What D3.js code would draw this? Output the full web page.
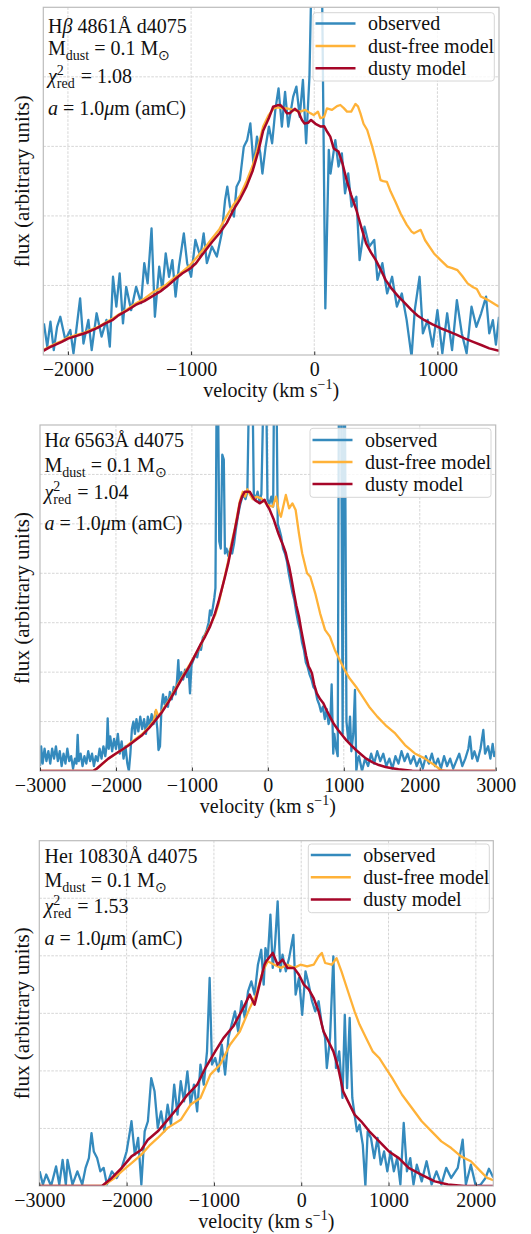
<!DOCTYPE html>
<html><head><meta charset="utf-8">
<script src="https://cdn.jsdelivr.net/npm/d3@7"></script>
<style>
body{margin:0;background:#fff}
text{font-family:"Liberation Serif","Times New Roman",serif;fill:#111;white-space:pre}
</style>
</head><body>
<svg id="chart" width="531" height="1234"></svg>
<script>
// ---------------- DATA ----------------
const legendNames = ["observed", "dust-free model", "dusty model"];

// Panel 1: H-beta
const hbXTicks = [-2000, -1000, 0, 1000];
const hbXDomain = [-2200, 1500];
const hbYDomain = [0, 1.0];
const hbYGrid = [0.2, 0.4, 0.6, 0.8];
const hbChi = "1.08";
const hbObs = [[-2195,0.091],[-2168,0.024],[-2142,0.096],[-2115,0.014],[-2088,0.081],[-2062,0.110],[-2021,0.043],[-1981,0.072],[-1955,0.005],[-1901,0.163],[-1874,0.033],[-1834,0.101],[-1807,0.014],[-1767,0.120],[-1727,0.053],[-1687,0.101],[-1660,0.024],[-1634,0.225],[-1607,0.139],[-1580,0.235],[-1553,0.091],[-1527,0.196],[-1487,0.129],[-1446,0.196],[-1406,0.149],[-1380,0.264],[-1353,0.206],[-1321,0.364],[-1294,0.110],[-1259,0.254],[-1233,0.187],[-1206,0.292],[-1179,0.225],[-1152,0.273],[-1126,0.168],[-1099,0.254],[-1059,0.350],[-1032,0.264],[-1000,0.225],[-965,0.331],[-925,0.283],[-898,0.350],[-872,0.264],[-831,0.312],[-791,0.283],[-751,0.350],[-724,0.446],[-706,0.484],[-684,0.427],[-652,0.398],[-631,0.484],[-604,0.503],[-572,0.599],[-545,0.618],[-519,0.666],[-492,0.542],[-465,0.628],[-438,0.580],[-421,0.522],[-395,0.599],[-368,0.657],[-342,0.609],[-316,0.705],[-290,0.767],[-263,0.657],[-237,0.757],[-211,0.657],[-171,0.743],[-145,0.772],[-118,0.685],[-92,0.791],[-66,0.609],[-39,0.801],[-22,1.1],[62,1.1],[90,0.134],[118,0.590],[132,0.522],[171,0.618],[197,0.542],[224,0.580],[250,0.465],[276,0.522],[303,0.427],[342,0.455],[368,0.273],[408,0.369],[447,0.312],[487,0.331],[513,0.216],[553,0.264],[592,0.177],[632,0.225],[671,0.139],[711,0.177],[750,0.101],[790,-0.005],[816,0.129],[855,0.225],[882,0.062],[921,0.101],[961,0.024],[1000,0.129],[1040,0.005],[1079,0.120],[1119,0.014],[1158,0.158],[1198,0.062],[1237,0.005],[1277,0.139],[1316,0.081],[1355,0.120],[1395,0.168],[1421,0.062],[1450,0.10],[1475,0.03],[1500,0.11]];
const hbDustFree = [[-2200,0.015],[-2150,0.024],[-2100,0.033],[-2050,0.040],[-2000,0.050],[-1930,0.058],[-1870,0.064],[-1830,0.070],[-1760,0.080],[-1700,0.092],[-1640,0.104],[-1590,0.116],[-1520,0.131],[-1450,0.148],[-1380,0.162],[-1320,0.178],[-1250,0.192],[-1200,0.203],[-1130,0.224],[-1070,0.240],[-1010,0.258],[-960,0.278],[-910,0.300],[-880,0.312],[-830,0.335],[-770,0.362],[-710,0.40],[-660,0.43],[-600,0.46],[-550,0.50],[-500,0.545],[-455,0.60],[-415,0.657],[-370,0.69],[-330,0.709],[-300,0.712],[-260,0.71],[-222,0.709],[-170,0.705],[-114,0.70],[-73,0.705],[-30,0.695],[-5,0.69],[30,0.70],[49,0.681],[80,0.685],[103,0.709],[144,0.705],[185,0.716],[212,0.719],[240,0.71],[266,0.70],[300,0.70],[334,0.722],[355,0.715],[375,0.695],[400,0.665],[430,0.647],[470,0.60],[500,0.56],[538,0.503],[560,0.50],[590,0.498],[620,0.47],[660,0.44],[701,0.407],[750,0.375],[790,0.355],[810,0.35],[864,0.36],[900,0.33],[972,0.292],[1020,0.275],[1081,0.254],[1120,0.25],[1163,0.244],[1200,0.228],[1245,0.206],[1290,0.195],[1320,0.19],[1353,0.168],[1400,0.16],[1434,0.153],[1470,0.145],[1500,0.139]];
const hbDusty = [[-2200,0.012],[-2150,0.022],[-2100,0.030],[-2050,0.038],[-2000,0.047],[-1930,0.055],[-1870,0.062],[-1830,0.067],[-1760,0.078],[-1700,0.090],[-1640,0.100],[-1590,0.114],[-1520,0.128],[-1450,0.144],[-1380,0.155],[-1320,0.168],[-1250,0.183],[-1200,0.196],[-1130,0.218],[-1070,0.235],[-1010,0.248],[-960,0.264],[-910,0.288],[-880,0.302],[-830,0.325],[-770,0.350],[-710,0.38],[-660,0.415],[-600,0.45],[-550,0.485],[-500,0.53],[-455,0.585],[-415,0.645],[-370,0.68],[-334,0.714],[-300,0.718],[-277,0.719],[-250,0.71],[-222,0.695],[-200,0.695],[-158,0.708],[-130,0.70],[-100,0.676],[-79,0.666],[-50,0.668],[-26,0.676],[10,0.665],[53,0.657],[80,0.658],[105,0.642],[130,0.628],[158,0.594],[197,0.585],[230,0.55],[263,0.503],[300,0.46],[342,0.417],[380,0.37],[421,0.321],[460,0.295],[500,0.273],[540,0.245],[579,0.216],[630,0.19],[684,0.168],[740,0.148],[790,0.129],[840,0.113],[895,0.100],[960,0.088],[1026,0.077],[1090,0.068],[1158,0.058],[1220,0.048],[1290,0.038],[1360,0.028],[1421,0.019],[1500,0.012]];

// Panel 2: H-alpha
const haXTicks = [-3000, -2000, -1000, 0, 1000, 2000, 3000];
const haXDomain = [-3000, 3000];
const haYDomain = [0, 1.4];
const haYGrid = [0.2, 0.4, 0.6, 0.8, 1.0, 1.2];
const haChi = "1.04";
const haObs = [[-3000,0.02],[-2985,0.10],[-2965,0.03],[-2940,0.09],[-2915,0.04],[-2890,0.08],[-2865,0.03],[-2840,0.09],[-2815,0.05],[-2790,0.10],[-2765,0.04],[-2740,0.08],[-2715,0.02],[-2690,0.07],[-2665,0.03],[-2640,0.09],[-2615,0.04],[-2590,0.06],[-2565,0.01],[-2540,0.05],[-2520,0.03],[-2504,0.146],[-2490,0.04],[-2465,0.07],[-2440,0.02],[-2415,0.06],[-2390,0.03],[-2365,0.08],[-2340,0.04],[-2315,0.07],[-2290,0.02],[-2265,0.06],[-2240,0.04],[-2215,0.09],[-2190,0.05],[-2165,0.10],[-2140,0.06],[-2120,0.11],[-2109,0.213],[-2095,0.09],[-2075,0.14],[-2050,0.08],[-2025,0.13],[-2000,0.09],[-1975,0.15],[-1950,0.07],[-1925,0.12],[-1900,0.05],[-1875,0.10],[-1850,0.03],[-1830,0.0],[-1810,0.07],[-1790,0.17],[-1770,0.20],[-1750,0.15],[-1730,0.21],[-1705,0.16],[-1680,0.22],[-1655,0.17],[-1630,0.21],[-1605,0.15],[-1580,0.22],[-1555,0.18],[-1530,0.23],[-1505,0.19],[-1480,0.24],[-1455,0.17],[-1440,0.085],[-1420,0.10],[-1400,0.26],[-1380,0.31],[-1360,0.27],[-1340,0.30],[-1315,0.26],[-1290,0.32],[-1265,0.29],[-1240,0.34],[-1215,0.31],[-1195,0.37],[-1179,0.449],[-1165,0.36],[-1140,0.40],[-1115,0.37],[-1090,0.41],[-1065,0.38],[-1045,0.42],[-1025,0.314],[-1005,0.43],[-980,0.45],[-955,0.47],[-930,0.46],[-905,0.50],[-880,0.49],[-855,0.54],[-830,0.55],[-805,0.57],[-780,0.60],[-762,0.65],[-745,0.63],[-725,0.66],[-705,0.70],[-690,0.74],[-675,1.5],[-655,1.5],[-640,0.93],[-620,0.90],[-600,1.28],[-580,1.26],[-565,0.88],[-545,0.90],[-520,0.87],[-495,0.90],[-470,0.88],[-445,0.92],[-420,0.98],[-395,1.03],[-370,1.07],[-345,1.10],[-320,1.12],[-295,1.10],[-270,1.13],[-250,1.5],[-200,1.5],[-185,1.12],[-160,1.10],[-135,1.13],[-110,1.09],[-85,1.12],[-60,1.5],[-20,1.5],[-5,1.10],[20,1.08],[45,1.11],[70,1.07],[80,1.5],[115,1.5],[130,1.0],[150,0.98],[175,0.95],[200,0.90],[225,0.88],[250,0.85],[275,0.80],[300,0.76],[325,0.72],[350,0.69],[375,0.64],[400,0.60],[425,0.57],[450,0.52],[475,0.49],[500,0.44],[525,0.42],[550,0.39],[575,0.37],[600,0.34],[625,0.33],[650,0.29],[675,0.27],[700,0.24],[725,0.26],[750,0.21],[775,0.25],[800,0.19],[825,0.22],[840,0.35],[861,0.07],[875,0.15],[900,0.09],[920,0.06],[935,1.5],[965,1.5],[985,0.15],[1000,1.5],[1015,1.5],[1035,0.20],[1060,0.12],[1082,0.22],[1100,0.08],[1125,0.15],[1147,0.328],[1165,0.0],[1185,0.05],[1200,0.06],[1240,0.0],[1280,0.05],[1320,0.02],[1360,0.07],[1400,0.03],[1440,0.08],[1480,0.04],[1520,0.07],[1560,0.02],[1600,0.05],[1640,0.01],[1680,0.06],[1720,0.03],[1760,0.08],[1800,0.04],[1840,0.07],[1880,0.03],[1920,0.06],[1960,0.02],[2000,0.05],[2040,0.01],[2080,0.06],[2120,0.03],[2160,0.07],[2200,0.02],[2240,0.05],[2280,0.01],[2320,0.06],[2360,0.02],[2400,0.05],[2440,0.01],[2480,0.04],[2520,0.07],[2560,0.02],[2600,0.05],[2640,0.09],[2661,0.139],[2690,0.05],[2720,0.08],[2760,0.04],[2800,0.09],[2837,0.166],[2860,0.07],[2900,0.10],[2930,0.05],[2960,0.11],[2980,0.06],[3000,0.08]];
const haDustFree = [[-3000,0],[-2300,0],[-2250,0.01],[-2174,0.03],[-2100,0.05],[-2000,0.07],[-1900,0.09],[-1826,0.11],[-1740,0.13],[-1652,0.15],[-1560,0.18],[-1500,0.205],[-1473,0.247],[-1440,0.22],[-1390,0.245],[-1304,0.285],[-1220,0.33],[-1130,0.38],[-1040,0.425],[-957,0.47],[-890,0.505],[-826,0.55],[-760,0.59],[-696,0.63],[-650,0.675],[-609,0.73],[-565,0.79],[-522,0.85],[-480,0.92],[-435,0.98],[-400,1.04],[-370,1.09],[-330,1.13],[-300,1.11],[-270,1.14],[-239,1.12],[-200,1.10],[-150,1.11],[-86,1.103],[0,1.076],[65,1.07],[108,1.11],[151,1.043],[172,1.029],[237,1.117],[280,1.063],[323,1.083],[366,1.056],[409,0.962],[452,0.881],[516,0.80],[559,0.786],[624,0.719],[688,0.638],[753,0.571],[817,0.544],[882,0.49],[946,0.449],[1011,0.409],[1075,0.375],[1161,0.341],[1247,0.301],[1333,0.26],[1441,0.22],[1548,0.186],[1677,0.152],[1806,0.105],[1935,0.071],[2064,0.051],[2193,0.024],[2279,0.004],[2350,0],[3000,0]];
const haDusty = [[-3000,0],[-2300,0],[-2250,0.01],[-2174,0.031],[-2100,0.05],[-2000,0.071],[-1900,0.09],[-1826,0.105],[-1740,0.125],[-1652,0.146],[-1560,0.175],[-1478,0.206],[-1390,0.24],[-1304,0.281],[-1220,0.325],[-1130,0.375],[-1040,0.42],[-957,0.469],[-890,0.51],[-826,0.544],[-760,0.585],[-696,0.638],[-650,0.685],[-609,0.733],[-565,0.785],[-522,0.840],[-480,0.905],[-435,0.975],[-400,1.03],[-370,1.083],[-340,1.11],[-304,1.130],[-270,1.13],[-239,1.130],[-200,1.11],[-174,1.097],[-140,1.09],[-109,1.083],[-75,1.09],[-43,1.097],[-10,1.075],[20,1.06],[43,1.043],[75,1.02],[108,0.989],[140,0.96],[172,0.935],[205,0.91],[237,0.881],[260,0.85],[280,0.827],[310,0.78],[344,0.72],[375,0.67],[409,0.625],[440,0.57],[473,0.517],[505,0.465],[538,0.422],[560,0.41],[581,0.395],[610,0.35],[645,0.314],[690,0.29],[731,0.274],[775,0.245],[817,0.22],[870,0.19],[925,0.166],[980,0.145],[1032,0.125],[1095,0.105],[1161,0.085],[1225,0.068],[1290,0.051],[1380,0.035],[1462,0.024],[1550,0.016],[1634,0.011],[1720,0.007],[1806,0.004],[1900,0.001],[2000,0],[3000,0]];

// Panel 3: He I
const heXTicks = [-3000, -2000, -1000, 0, 1000, 2000];
const heXDomain = [-3000, 2200];
const heYDomain = [0, 1.2];
const heYGrid = [0.2, 0.4, 0.6, 0.8, 1.0];
const heChi = "1.53";
const heObs = [[-2996,0.051],[-2959,0.005],[-2921,0.04],[-2865,0.0],[-2808,0.068],[-2771,0.005],[-2733,0.091],[-2696,0.005],[-2677,0.091],[-2620,0.005],[-2564,0.051],[-2508,0.005],[-2470,0.063],[-2432,0.097],[-2402,0.184],[-2376,0.12],[-2338,0.097],[-2301,0.051],[-2263,0.063],[-2226,0.005],[-2169,0.051],[-2113,0.028],[-2056,0.063],[-2000,0.12],[-1962,0.19],[-1944,0.225],[-1906,0.109],[-1868,0.167],[-1831,0.005],[-1793,0.19],[-1756,0.225],[-1718,0.375],[-1680,0.329],[-1643,0.202],[-1605,0.259],[-1568,0.19],[-1530,0.283],[-1492,0.213],[-1455,0.352],[-1417,0.248],[-1380,0.364],[-1342,0.294],[-1304,0.398],[-1267,0.283],[-1229,0.352],[-1192,0.259],[-1154,0.422],[-1116,0.352],[-1079,0.468],[-1049,0.723],[-1022,0.422],[-985,0.445],[-947,0.398],[-910,0.491],[-872,0.387],[-834,0.514],[-797,0.561],[-759,0.607],[-722,0.537],[-684,0.642],[-646,0.584],[-609,0.676],[-571,0.711],[-534,0.665],[-496,0.769],[-458,0.821],[-430,0.70],[-410,0.827],[-383,0.792],[-353,0.943],[-326,0.758],[-300,0.839],[-270,0.989],[-240,0.746],[-214,0.804],[-176,0.746],[-139,0.792],[-90,0.873],[-64,0.665],[-26,0.723],[11,0.595],[49,0.746],[86,0.70],[124,0.642],[161,0.607],[199,0.642],[236,0.561],[274,0.514],[293,0.41],[330,0.514],[368,0.798],[398,0.41],[435,0.468],[473,0.306],[499,0.595],[525,0.34],[555,0.584],[585,0.306],[611,0.248],[638,0.19],[668,0.213],[705,0.144],[735,0.0],[761,0.19],[799,0.167],[836,0.097],[874,0.167],[911,0.074],[949,0.12],[986,0.051],[1024,0.12],[1061,0.051],[1099,0.097],[1136,0.005],[1174,0.219],[1211,0.051],[1249,0.097],[1286,0.005],[1324,0.074],[1380,0.016],[1436,0.086],[1493,0.005],[1549,0.051],[1605,0.005],[1661,0.063],[1718,0.028],[1793,0.063],[1849,0.161],[1886,0.005],[1943,0.074],[1999,0.0],[2055,0.005],[2111,0.028],[2150,0.06],[2200,0.03]];
const heDustFree = [[-3000,0],[-2270,0],[-2150,0.025],[-2056,0.051],[-1940,0.08],[-1831,0.109],[-1740,0.14],[-1643,0.167],[-1530,0.202],[-1380,0.23],[-1267,0.283],[-1154,0.306],[-1041,0.387],[-928,0.422],[-816,0.491],[-703,0.537],[-590,0.618],[-515,0.665],[-440,0.746],[-383,0.781],[-308,0.769],[-233,0.758],[-158,0.769],[-83,0.758],[-8,0.769],[68,0.763],[143,0.769],[199,0.798],[236,0.81],[274,0.775],[349,0.769],[405,0.792],[461,0.746],[536,0.676],[611,0.607],[668,0.561],[743,0.514],[818,0.468],[893,0.445],[968,0.41],[1043,0.375],[1155,0.317],[1268,0.271],[1380,0.225],[1493,0.19],[1605,0.155],[1718,0.132],[1830,0.103],[1943,0.086],[2055,0.051],[2130,0.028],[2200,0.02]];
const heDusty = [[-3000,0],[-2282,0],[-2169,0.028],[-2056,0.063],[-1944,0.103],[-1831,0.126],[-1756,0.161],[-1643,0.19],[-1530,0.23],[-1417,0.271],[-1304,0.317],[-1192,0.352],[-1098,0.41],[-985,0.468],[-891,0.514],[-778,0.555],[-665,0.618],[-590,0.665],[-534,0.630],[-477,0.70],[-421,0.769],[-401,0.781],[-326,0.810],[-270,0.769],[-214,0.787],[-158,0.758],[-83,0.758],[-26,0.734],[30,0.70],[86,0.683],[143,0.653],[199,0.607],[255,0.538],[311,0.503],[368,0.468],[424,0.41],[480,0.329],[536,0.294],[611,0.248],[686,0.225],[780,0.19],[893,0.155],[1005,0.12],[1118,0.097],[1230,0.063],[1380,0.039],[1530,0.016],[1680,0.005],[1868,0],[2200,0]];

// ---------------- DRAW ----------------
const colors = {obs: "#348ABD", free: "#FFB238", dusty: "#A60628"};
const FS = 20;
const svg = d3.select("#chart");

function rich(g, x, y, segs, size) {
  let cx = x;
  segs.forEach(s => {
    if (s.stack) {
      const t1 = g.append("text").attr("x", cx).attr("y", y - size*0.40).style("font-size", (size*0.7)+"px").text(s.stack[0]);
      const t2 = g.append("text").attr("x", cx).attr("y", y + size*0.27).style("font-size", (size*0.7)+"px").text(s.stack[1]);
      cx += Math.max(t1.node().getComputedTextLength(), t2.node().getComputedTextLength()) + 1;
    } else {
      let dy = 0, fs = size;
      if (s.sub) { dy = size*0.27; fs = size*0.7; }
      if (s.sup) { dy = -size*0.40; fs = size*0.7; }
      if (s.sc) { fs = size*0.78; }
      const t = g.append("text").attr("x", cx).attr("y", y + dy)
        .style("font-size", fs+"px").style("font-style", s.i ? "italic" : "normal").text(s.t);
      cx += t.node().getComputedTextLength();
    }
  });
  return cx - x;
}

const panels = [
  {obs: hbObs, free: hbDustFree, dusty: hbDusty, xd: hbXDomain, yd: hbYDomain, xt: hbXTicks, yg: hbYGrid, chi: hbChi,
   title: [{t:"H"},{t:"β", i:true},{t:" 4861Å d4075"}],
   box: {l:43.3, r:499, t:7.3, b:355}, tx: 48, ty: [33, 55, 83, 115],
   leg: {x:313, y:12.7, w:181.3, h:68.3, rows:[23.5, 46, 68.3]}},
  {obs: haObs, free: haDustFree, dusty: haDusty, xd: haXDomain, yd: haYDomain, xt: haXTicks, yg: haYGrid, chi: haChi,
   title: [{t:"H"},{t:"α", i:true},{t:" 6563Å d4075"}],
   box: {l:40, r:495.7, t:425, b:771}, tx: 44.5, ty: [447, 471.5, 498.5, 530],
   leg: {x:310, y:428.3, w:181, h:69, rows:[440, 462, 484]}},
  {obs: heObs, free: heDustFree, dusty: heDusty, xd: heXDomain, yd: heYDomain, xt: heXTicks, yg: heYGrid, chi: heChi,
   title: [{t:"He"},{t:"I", sc:true},{t:" 10830Å d4075"}],
   box: {l:39.3, r:493.3, t:840.7, b:1186}, tx: 44.5, ty: [863.3, 886.7, 912.7, 945],
   leg: {x:308.3, y:844, w:181, h:68.7, rows:[855, 877.3, 899.5]}}
];

panels.forEach((p, i) => {
  const B = p.box;
  const x = d3.scaleLinear().domain(p.xd).range([B.l, B.r]);
  const y = d3.scaleLinear().domain(p.yd).range([B.b, B.t]);
  const g = svg.append("g");

  // grid
  g.selectAll(".gx").data(p.xt.filter(v => v > p.xd[0] && v < p.xd[1])).enter().append("line")
    .attr("x1", d => x(d)).attr("x2", d => x(d)).attr("y1", B.t).attr("y2", B.b)
    .attr("stroke", "#c4c4c4").attr("stroke-width", 0.7).attr("stroke-dasharray", "2.6,1.4");
  g.selectAll(".gy").data(p.yg).enter().append("line")
    .attr("x1", B.l).attr("x2", B.r).attr("y1", d => y(d)).attr("y2", d => y(d))
    .attr("stroke", "#c4c4c4").attr("stroke-width", 0.7).attr("stroke-dasharray", "2.6,1.4");

  // clip
  const cid = "clip" + i;
  svg.append("clipPath").attr("id", cid).append("rect")
    .attr("x", B.l).attr("y", B.t).attr("width", B.r - B.l).attr("height", B.b - B.t);
  const line = d3.line().x(d => x(d[0])).y(d => y(d[1]));
  const lg = g.append("g").attr("clip-path", `url(#${cid})`);
  [["obs", 2.3], ["free", 2.3], ["dusty", 2.5]].forEach(([k, w]) => {
    lg.append("path").datum(p[k]).attr("d", line).attr("fill", "none")
      .attr("stroke", colors[k]).attr("stroke-width", w).attr("stroke-linejoin", "round");
  });

  // frame
  g.append("rect").attr("x", B.l).attr("y", B.t).attr("width", B.r - B.l).attr("height", B.b - B.t)
    .attr("fill", "none").attr("stroke", "#bcbcbc").attr("stroke-width", 1.2);

  // x ticks (inward) and labels
  const ax = g.append("g").attr("transform", `translate(0,${B.b})`)
    .call(d3.axisBottom(x).tickValues(p.xt).tickSizeInner(-3.5).tickSizeOuter(0)
      .tickFormat(d => d < 0 ? "\u2212" + Math.abs(d) : String(d)));
  ax.select(".domain").remove();
  ax.attr("font-family", null).attr("font-size", null);
  ax.selectAll(".tick line").attr("stroke", "#333").attr("stroke-width", 1);
  ax.selectAll(".tick text").attr("y", 20.5).attr("dy", 0).style("font-size", FS + "px").attr("fill", "#111");

  // x label
  const xl = g.append("g");
  const w = rich(xl, 0, B.b + 42, [{t:"velocity (km s"},{t:"\u22121", sup:true},{t:")"}], FS);
  xl.attr("transform", `translate(${(B.l + B.r) / 2 - w / 2},0)`);

  // y label
  g.append("text").attr("transform", `translate(29,${(B.t + B.b) / 2}) rotate(-90)`)
    .attr("text-anchor", "middle").style("font-size", FS + "px")
    .attr("textLength", 172).attr("lengthAdjust", "spacingAndGlyphs").text("flux (arbitrary units)");

  // annotation
  const an = g.append("g");
  rich(an, p.tx, p.ty[0], p.title, FS);
  rich(an, p.tx, p.ty[1], [{t:"M"},{t:"dust", sub:true},{t:" = 0.1 M"},{t:"\u2299", sub:true}], FS);
  rich(an, p.tx, p.ty[2], [{t:"χ", i:true},{stack:["2","red"]},{t:" = " + p.chi}], FS);
  rich(an, p.tx, p.ty[3], [{t:"a", i:true},{t:" = 1.0"},{t:"μ", i:true},{t:"m (amC)"}], FS);

  // legend
  const L = p.leg;
  const lgd = g.append("g");
  lgd.append("rect").attr("x", L.x).attr("y", L.y).attr("width", L.w).attr("height", L.h)
    .attr("rx", 3).attr("fill", "#fff").attr("fill-opacity", 0.8).attr("stroke", "#d6d6d6").attr("stroke-width", 1);
  ["obs", "free", "dusty"].forEach((k, j) => {
    lgd.append("line").attr("x1", L.x + 2.5).attr("x2", L.x + 42.5).attr("y1", L.rows[j]).attr("y2", L.rows[j])
      .attr("stroke", colors[k]).attr("stroke-width", 2.4);
    lgd.append("text").attr("x", L.x + 55).attr("y", L.rows[j] + 6.5).style("font-size", FS + "px").text(legendNames[j]);
  });
});
</script>
</body></html>
